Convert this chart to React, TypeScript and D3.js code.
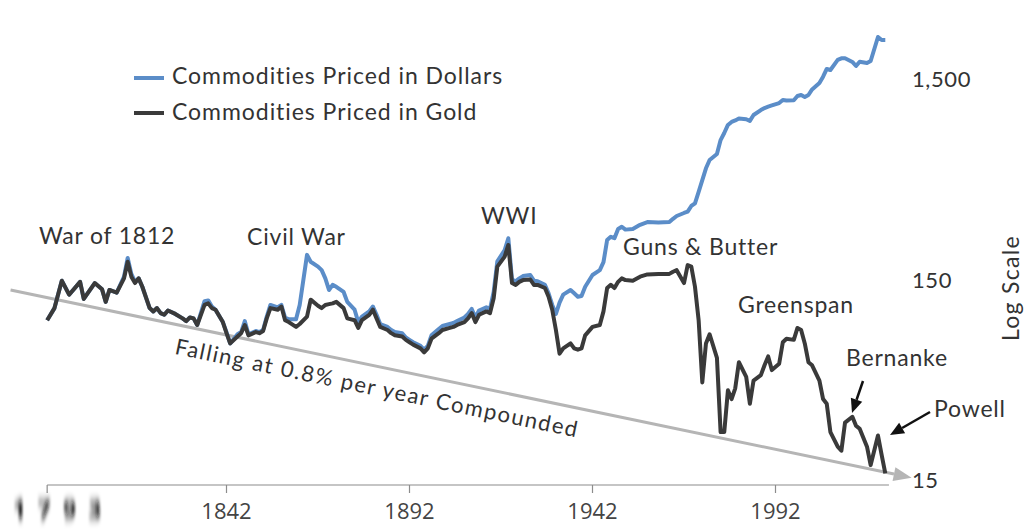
import React from 'react';
import * as d3 from 'd3';

// Sample years shared by both series
const years = [
  1793, 1795, 1797, 1799, 1802, 1803, 1806, 1808, 1809, 1810, 1812, 1814, 1815, 1816, 1817, 1818, 1819,
  1821, 1822, 1823, 1824, 1825, 1826, 1828, 1830, 1831, 1832, 1833, 1834, 1836, 1837, 1838, 1839, 1841,
  1842, 1843, 1845, 1846, 1847, 1848, 1850, 1851, 1852, 1853, 1854, 1856, 1857, 1858, 1859, 1861, 1862,
  1864, 1865, 1867, 1868, 1869, 1870, 1871, 1872, 1874, 1875, 1877, 1878, 1879, 1881, 1882, 1883, 1884,
  1886, 1887, 1888, 1890, 1891, 1892, 1893, 1895, 1896, 1897, 1898, 1900, 1901, 1903, 1904, 1905, 1907,
  1908, 1909, 1910, 1911, 1913, 1914, 1915, 1916, 1918, 1919, 1920, 1921, 1922, 1923, 1925, 1926, 1927,
  1929, 1930, 1931, 1932, 1933, 1934, 1936, 1937, 1938, 1939, 1940, 1942, 1944, 1945, 1946, 1947, 1948,
  1949, 1950, 1951, 1953, 1955, 1957, 1960, 1963, 1964, 1965, 1967, 1968, 1969, 1970, 1971, 1972, 1973,
  1974, 1976, 1977, 1978, 1979, 1980, 1981, 1982, 1984, 1985, 1986, 1988, 1989, 1990, 1991, 1993, 1994,
  1995, 1997, 1998, 1999, 2000, 2001, 2002, 2004, 2005, 2006, 2007, 2009, 2010, 2011, 2013, 2014, 2015,
  2017, 2018, 2020, 2021, 2022,
];

// Commodity index priced in gold
const goldPriced = [
  94, 108, 148, 126, 146, 120, 144, 134, 116, 133, 129, 152, 184, 155, 144, 152, 138,
  108, 104, 108, 102, 100, 105, 101, 96, 93, 97, 96, 89, 112, 114, 108, 106, 92,
  81, 72, 78, 81, 89, 79, 82, 81, 83, 96, 108, 106, 110, 94, 92, 87, 90,
  98, 119, 111, 108, 112, 113, 114, 116, 108, 96, 94, 86, 94, 100, 106, 96, 87,
  84, 81, 79, 78, 75, 73, 71, 68, 65, 68, 76, 81, 84, 86, 87, 89, 92,
  96, 102, 92, 100, 104, 102, 121, 174, 195, 223, 144, 141, 146, 149, 150, 141, 141,
  136, 123, 106, 84, 64, 68, 72, 68, 67, 68, 79, 87, 89, 104, 136, 141, 136,
  146, 152, 149, 148, 155, 159, 160, 160, 164, 167, 144, 177, 174, 138, 94, 46, 72,
  80, 61, 26, 26, 42, 38, 43, 58, 49, 36, 47, 50, 56, 62, 53, 57, 73,
  76, 75, 86, 84, 72, 58, 56, 47, 38, 36, 26, 22, 21, 29, 31, 28, 27,
  22, 17.8, 25, 20, 16.2,
];

// Commodity index priced in dollars
const dollarPriced = [
  94, 108, 148, 126, 146, 120, 144, 134, 116, 133, 129, 155, 192, 160, 146, 152, 138,
  108, 104, 108, 102, 100, 105, 101, 96, 93, 97, 96, 89, 117, 118, 110, 106, 92,
  82, 72, 80, 82, 93, 80, 83, 82, 84, 98, 112, 109, 112, 97, 95, 95, 112,
  199, 184, 174, 167, 152, 133, 141, 138, 130, 116, 106, 92, 98, 104, 110, 100, 90,
  87, 84, 82, 81, 77, 75, 73, 70, 67, 70, 79, 85, 88, 90, 91, 93, 97,
  101, 107, 97, 105, 109, 107, 130, 185, 210, 241, 150, 147, 152, 156, 158, 148, 147,
  141, 128, 112, 101, 115, 126, 133, 128, 123, 124, 138, 158, 167, 183, 236, 245, 241,
  268, 275, 266, 268, 281, 290, 289, 290, 301, 311, 322, 327, 349, 360, 410, 470, 538,
  592, 634, 744, 807, 885, 916, 932, 953, 945, 927, 992, 1050, 1075, 1092, 1107, 1138, 1179,
  1173, 1175, 1234, 1248, 1220, 1248, 1330, 1432, 1540, 1683, 1663, 1867, 1902, 1902, 1824, 1742, 1830,
  1803, 1845, 2430, 2349, 2349,
];

const xTicks = [1842, 1892, 1942, 1992];
const firstYear = 1793;
const lastYear = 2023;
const yTicks = [15, 150, 1500];

// trend: falling 0.8% a year, compounded
const trendStart = { year: 1783, value: 133 };
const trendEnd = { year: 2027, value: 15.7 };

const seriesNames = ['Commodities Priced in Dollars', 'Commodities Priced in Gold'];
const eventLabels = ['War of 1812', 'Civil War', 'WWI', 'Guns & Butter', 'Greenspan', 'Bernanke', 'Powell'];

const BLUE = '#5b8dc8';
const DARK = '#3a3a3a';
const GREY = '#b5b5b5';
const TEXT = '#333';
const FONT = 'Lato, "Open Sans", sans-serif';

// where each event label starts (x, baseline)
const eventPos: [number, number][] = [
  [39, 244], [247, 245], [481, 224], [623, 255], [738, 313], [846, 366], [934, 417],
];

function arrowHead(x1: number, y1: number, x2: number, y2: number, len: number, half: number) {
  const a = Math.atan2(y2 - y1, x2 - x1);
  const bx = x2 - len * Math.cos(a);
  const by = y2 - len * Math.sin(a);
  const px = -Math.sin(a) * half;
  const py = Math.cos(a) * half;
  return {
    base: [bx, by],
    points: `${x2},${y2} ${bx + px},${by + py} ${bx - px},${by - py}`,
  };
}

const App: React.FC = () => {
  const W = 1024;
  const H = 530;

  const x = d3.scaleLinear().domain([1842, 1992]).range([226.5, 775.5]);
  const y = d3.scaleLog().domain([15, 1500]).range([480, 79]);

  const line = d3
    .line<number>()
    .x((_, i) => x(years[i]))
    .y((d) => y(d));

  const axisY = 485;

  // trend arrow
  const tx1 = x(trendStart.year);
  const ty1 = y(trendStart.value);
  const tx2 = x(trendEnd.year);
  const ty2 = y(trendEnd.value);
  const trendAngle = (Math.atan2(ty2 - ty1, tx2 - tx1) * 180) / Math.PI;
  const tipX = tx2 + 8;
  const tipY = ty2 + 8 * Math.tan((trendAngle * Math.PI) / 180);
  const trendHead = arrowHead(tx1, ty1, tipX, tipY, 18, 7);

  // label along the trend line
  const lx = 180;
  const lt = (lx - tx1) / (tx2 - tx1);
  const ly = ty1 + lt * (ty2 - ty1);
  const rad = (trendAngle * Math.PI) / 180;
  const off = 29;
  const labelX = lx - Math.sin(rad) * off;
  const labelY = ly + Math.cos(rad) * off;

  // pointer arrows for the last two labels
  const bernanke = { from: [863, 381], to: [852, 413] };
  const powell = { from: [930, 412], to: [890, 435] };
  const pointers = [bernanke, powell].map((p) => ({
    ...p,
    head: arrowHead(p.from[0], p.from[1], p.to[0], p.to[1], 14, 6),
  }));

  return (
    <svg
      width={W}
      height={H}
      style={{ position: 'absolute', left: 0, top: 0, background: '#fff' }}
      fontFamily={FONT}
    >
      <defs>
        <filter id="smear" x="-20%" y="-100%" width="140%" height="300%">
          <feGaussianBlur stdDeviation="0.8 5" />
        </filter>
      </defs>

      {/* bottom axis */}
      <line x1={x(firstYear)} x2={x(lastYear)} y1={axisY} y2={axisY} stroke="#8c8c8c" strokeWidth={1.2} />
      {[firstYear, ...xTicks].map((t) => (
        <line key={t} x1={x(t)} x2={x(t)} y1={axisY} y2={axisY + 8} stroke="#8c8c8c" strokeWidth={1.2} />
      ))}
      {xTicks.map((t) => (
        <text key={t} x={x(t)} y={519} textAnchor="middle" fontSize={22} fill="#444" fontFamily='"Open Sans", sans-serif'>
          {t}
        </text>
      ))}
      <text
        x={63}
        y={518}
        textAnchor="middle"
        fontSize={23}
        fontWeight={700}
        letterSpacing={12}
        fill="#111"
        fontFamily='"Open Sans", sans-serif'
        filter="url(#smear)"
      >
        {firstYear}
      </text>

      {/* right log axis */}
      {yTicks.map((t) => (
        <text key={t} x={912} y={y(t) + 8} fontSize={22} fill={TEXT} letterSpacing={0.6}>
          {d3.format(',')(t)}
        </text>
      ))}
      <text
        transform="translate(1019,288) rotate(-90)"
        textAnchor="middle"
        fontSize={23}
        letterSpacing={1.3}
        fill={TEXT}
      >
        Log Scale
      </text>

      {/* trend */}
      <line x1={tx1} y1={ty1} x2={trendHead.base[0]} y2={trendHead.base[1]} stroke={GREY} strokeWidth={3} />
      <polygon points={trendHead.points} fill={GREY} />
      <text
        x={labelX}
        y={labelY}
        fontSize={22}
        letterSpacing={1.5}
        fill={TEXT}
        transform={`rotate(${trendAngle},${labelX},${labelY})`}
      >
        Falling at 0.8% per year Compounded
      </text>

      {/* series */}
      <path d={line(dollarPriced) ?? ''} fill="none" stroke={BLUE} strokeWidth={4} strokeLinejoin="round" />
      <path d={line(goldPriced) ?? ''} fill="none" stroke={DARK} strokeWidth={4} strokeLinejoin="round" />

      {/* legend */}
      <line x1={134} x2={164} y1={78} y2={78} stroke={BLUE} strokeWidth={4} />
      <text x={172} y={84} fontSize={23} letterSpacing={0.95} fill={TEXT}>{seriesNames[0]}</text>
      <line x1={134} x2={164} y1={113} y2={113} stroke={DARK} strokeWidth={4} />
      <text x={172} y={120} fontSize={23} letterSpacing={0.95} fill={TEXT}>{seriesNames[1]}</text>

      {/* events */}
      {eventLabels.map((label, i) => (
        <text key={label} x={eventPos[i][0]} y={eventPos[i][1]} fontSize={23} letterSpacing={0.8} fill={TEXT}>
          {label}
        </text>
      ))}
      {pointers.map((p, i) => (
        <g key={i}>
          <line x1={p.from[0]} y1={p.from[1]} x2={p.head.base[0]} y2={p.head.base[1]} stroke="#111" strokeWidth={2.5} />
          <polygon points={p.head.points} fill="#111" />
        </g>
      ))}
    </svg>
  );
};

export default App;
